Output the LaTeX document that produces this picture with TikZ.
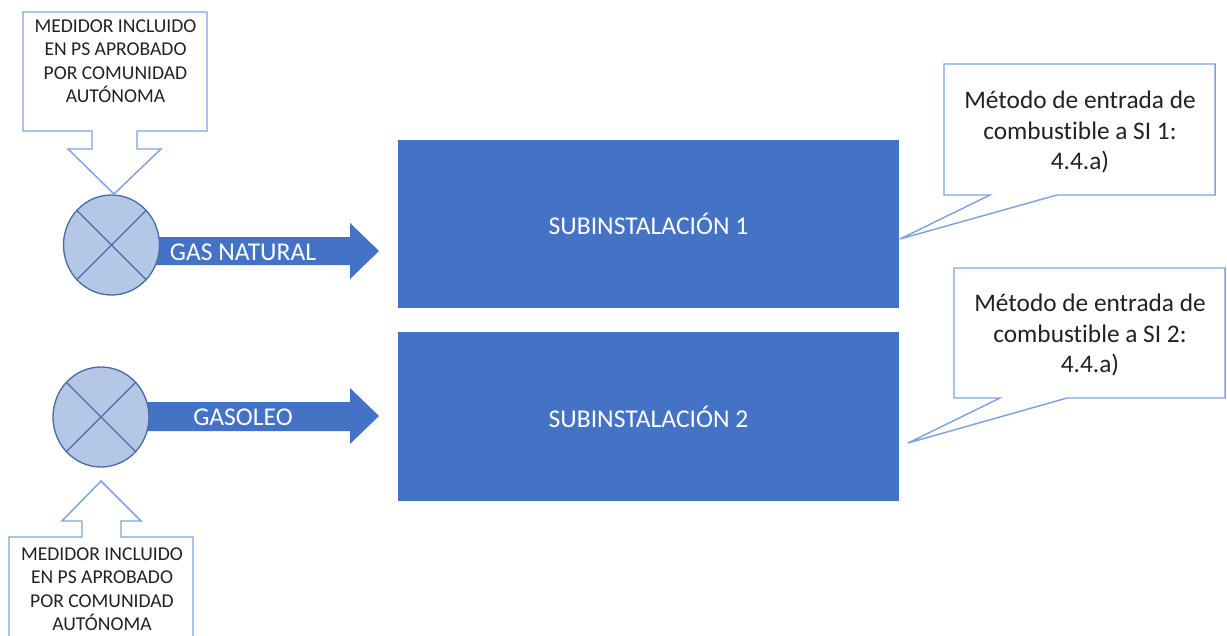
\documentclass[tikz,border=0pt]{standalone}
\usepackage{fontspec}
\setmainfont[RawFeature={-liga;-dlig;-clig}]{Carlito}
\usetikzlibrary{shapes.geometric}
\definecolor{blueA}{HTML}{4472C4}
\definecolor{blueB}{HTML}{B4C7E7}
\definecolor{lineB}{HTML}{7FA3E0}
\definecolor{lineC}{HTML}{4A6DA8}
\definecolor{inkA}{HTML}{222222}
\tikzset{
 callout/.style={draw=lineB,fill=white,line width=1.1pt,line join=miter},
 bigbox/.style={rectangle,draw=none,fill=blueA,minimum width=375.75pt,minimum height=126.5pt,inner sep=0pt,text=white,font=\fontsize{19.2}{22}\selectfont},
 flow/.style={fill=blueA,draw=none},
 flowlabel/.style={text=white,inner sep=0pt,font=\fontsize{19.2}{22}\selectfont},
 meter/.style={ellipse,draw=lineC,fill=blueB,line width=1pt,minimum width=72pt,minimum height=75pt,inner sep=0pt},
 cross/.style={draw=lineC,line width=1pt},
 smalltext/.style={align=center,text=inkA,inner sep=0pt,font=\fontsize{14.7}{17.6}\selectfont},
 largetext/.style={align=center,text=inkA,inner sep=0pt,font=\fontsize{19}{23.2}\selectfont},
}
\begin{document}
\begin{tikzpicture}[x=0.75pt,y=-0.75pt]
\useasboundingbox (0,0) rectangle (1227,635);
\clip (0,0) rectangle (1227,635);
\fill[white] (0,0) rectangle (1227,635);
% flow arrows
\fill[flow] (150,237) -- (350,237) -- (350,223) -- (379,251) -- (350,279) -- (350,265) -- (150,265) -- cycle;
\fill[flow] (140,402) -- (350,402) -- (350,388) -- (379,416) -- (350,444) -- (350,431) -- (140,431) -- cycle;
% meters
\node[meter] (m1) at (111.5,245) {};
\draw[cross] (m1.45) -- (m1.225) (m1.135) -- (m1.315);
\node[meter] (m2) at (101,417) {};
\draw[cross] (m2.45) -- (m2.225) (m2.135) -- (m2.315);
\node[flowlabel] (l1) at (243,252) {GAS NATURAL};
\node[flowlabel] (l2) at (243,417) {GASOLEO};
% boxes
\node[bigbox] (s1) at (648.5,224) {SUBINSTALACIÓN 1};
\node[bigbox] (s2) at (648.5,416.5) {SUBINSTALACIÓN 2};
% top left callout
\draw[callout] (23,12) -- (207,12) -- (207,131) -- (137,131) -- (137,149) -- (161,149) -- (114,194) -- (68,149) -- (92,149) -- (92,131) -- (23,131) -- cycle;
\node[smalltext] (c1) at (115.5,61) {MEDIDOR INCLUIDO\\EN PS APROBADO\\POR COMUNIDAD\\AUTÓNOMA};
% bottom left callout
\draw[callout] (9,660) -- (9,537) -- (82,537) -- (82,521) -- (62,521) -- (101,481) -- (141,521) -- (121,521) -- (121,537) -- (193,537) -- (193,660);
\node[smalltext] (c2) at (102,589) {MEDIDOR INCLUIDO\\EN PS APROBADO\\POR COMUNIDAD\\AUTÓNOMA};
% right callouts
\draw[callout] (944,64) -- (1215,64) -- (1215,195) -- (1057,195) -- (900,239) -- (990,195) -- (944,195) -- cycle;
\node[largetext] (c3) at (1080,132) {Método de entrada de\\combustible a SI 1:\\4.4.a)};
\draw[callout] (954,268) -- (1225,268) -- (1225,398) -- (1067,398) -- (908,443) -- (1000,398) -- (954,398) -- cycle;
\node[largetext] (c4) at (1090,335) {Método de entrada de\\combustible a SI 2:\\4.4.a)};
\end{tikzpicture}
\end{document}
